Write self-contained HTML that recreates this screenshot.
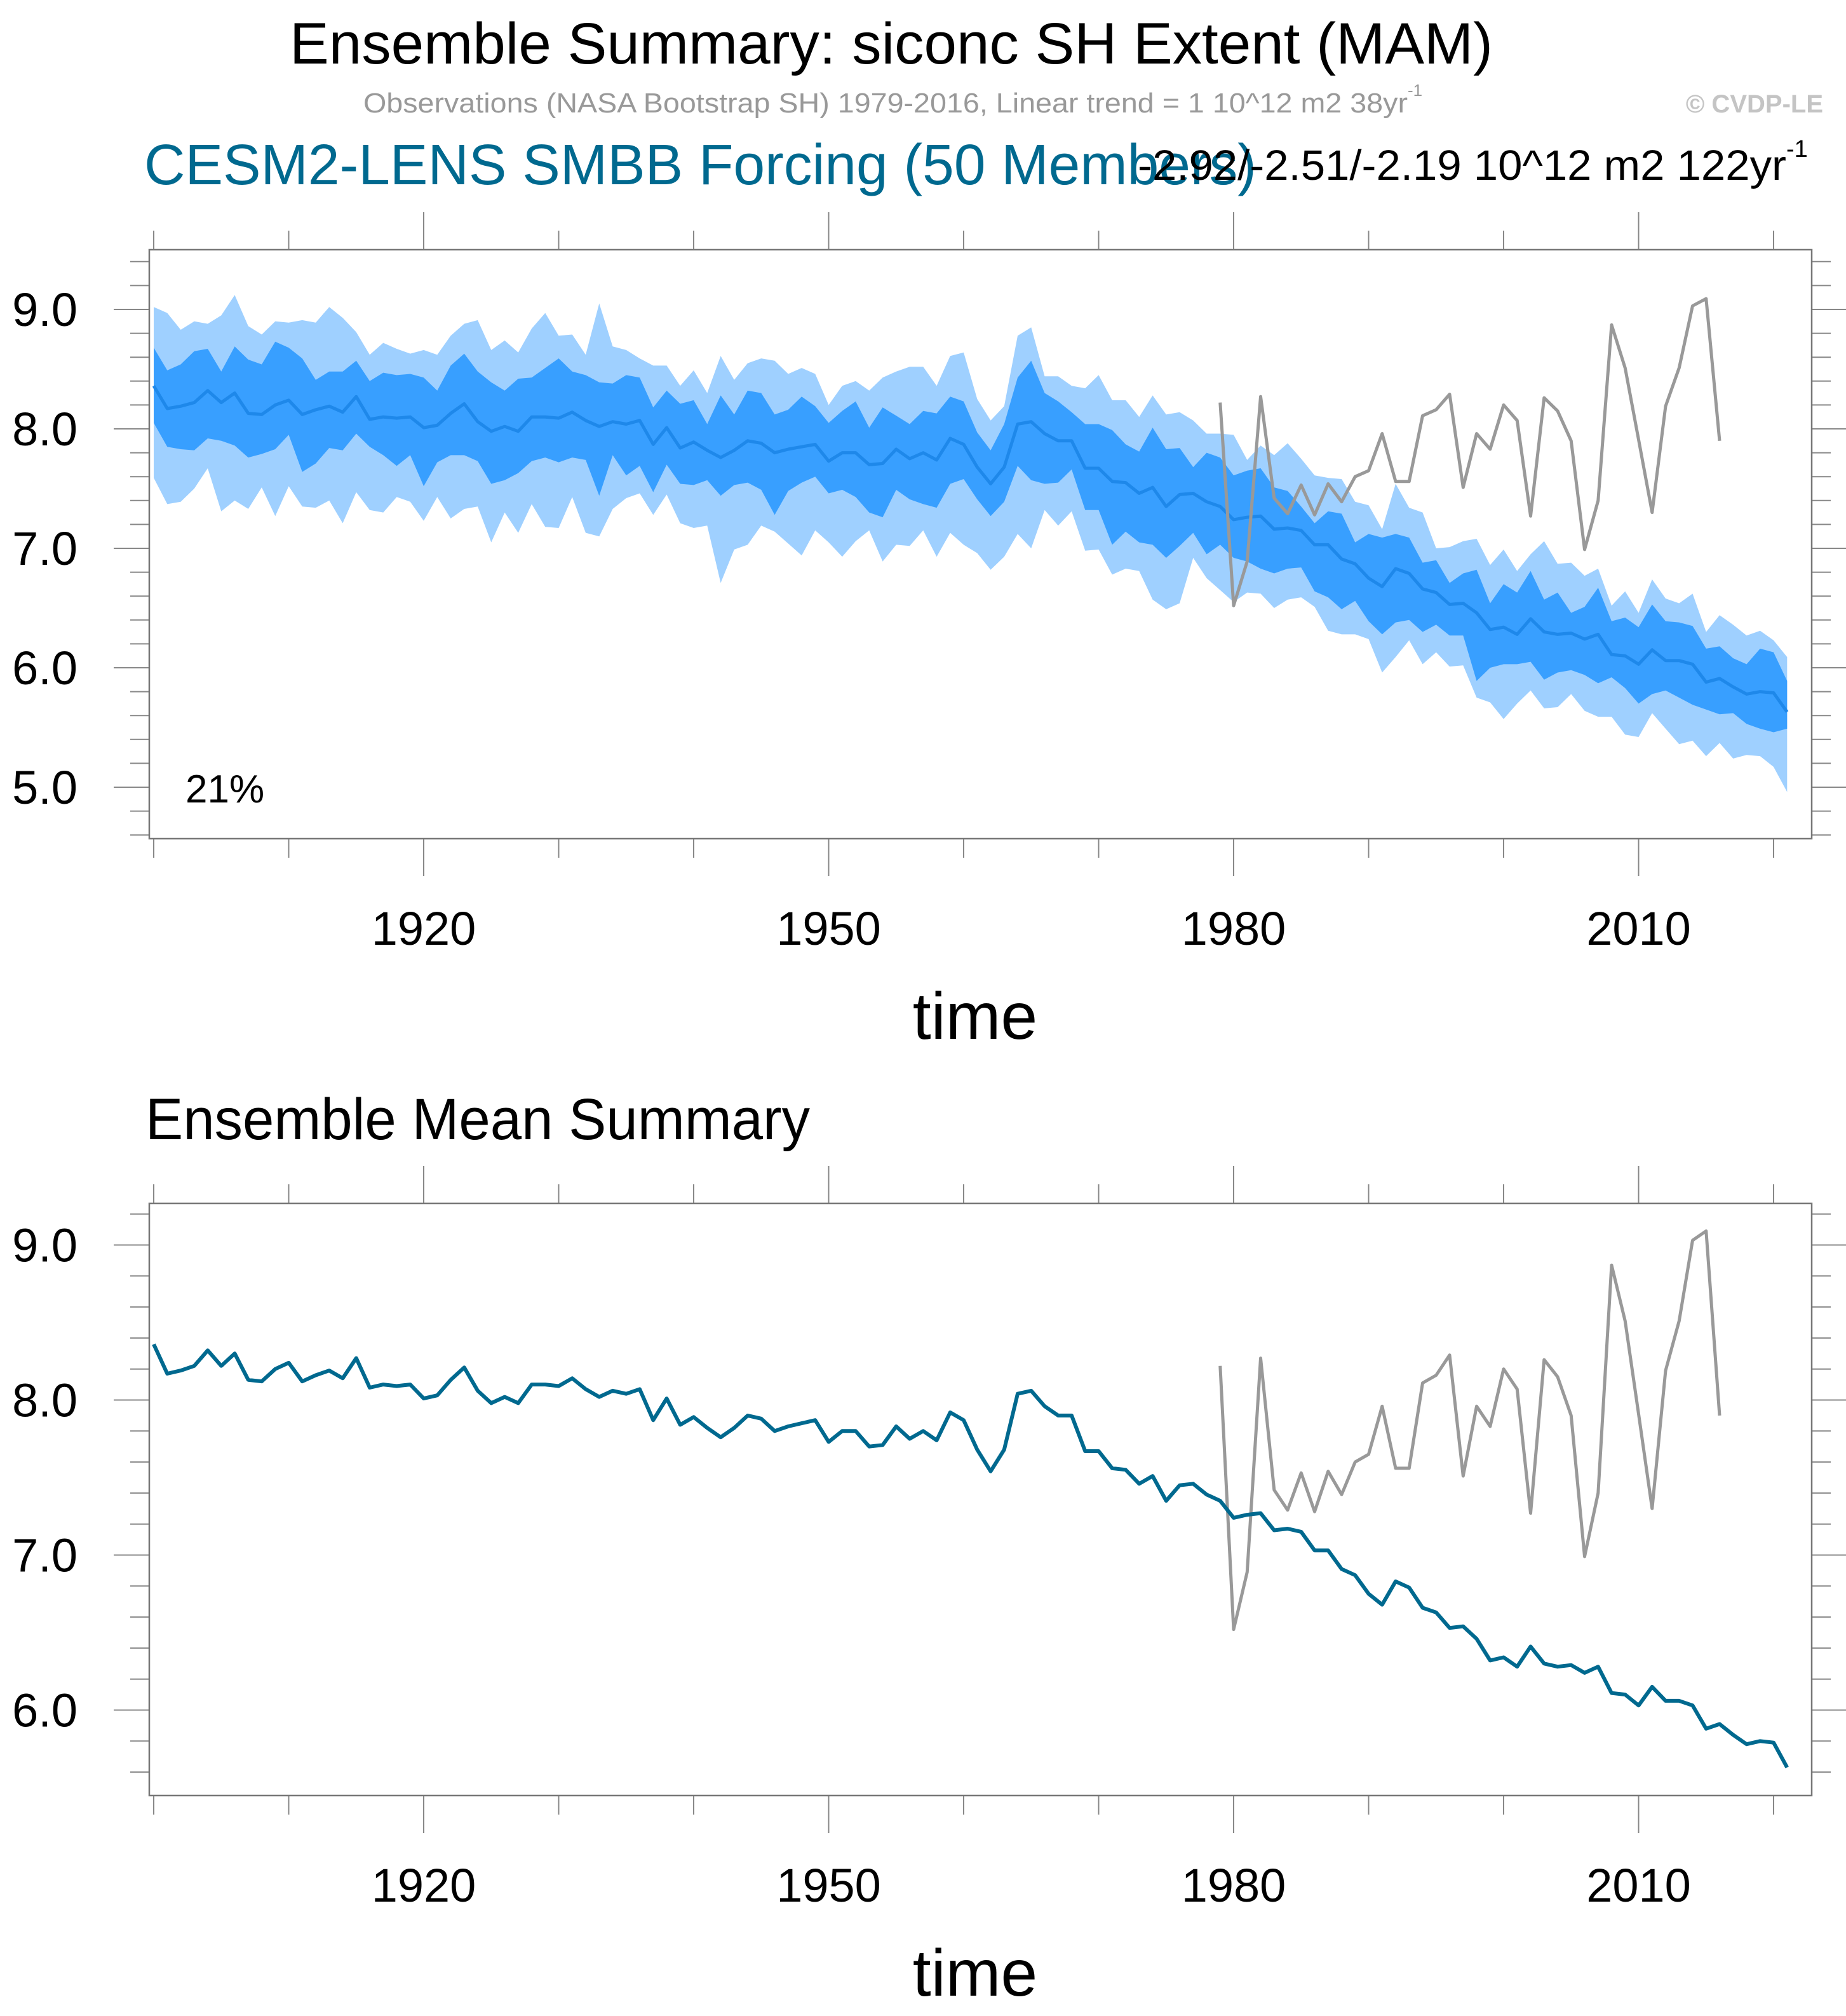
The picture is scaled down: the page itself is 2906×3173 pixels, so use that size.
<!DOCTYPE html>
<html><head><meta charset="utf-8">
<style>
html,body{margin:0;padding:0;background:#fff;}
svg{display:block;font-family:"Liberation Sans",sans-serif;}
</style></head>
<body>
<svg id="chart" xmlns="http://www.w3.org/2000/svg" width="2906" height="3173" viewBox="0 0 2906 3173">
<rect x="0" y="0" width="2906" height="3173" fill="#fff"/>
<text x="456" y="100" font-size="92" textLength="1894" lengthAdjust="spacingAndGlyphs" fill="#000">Ensemble Summary: siconc SH Extent (MAM)</text>
<text x="572" y="177" font-size="44" fill="#999"><tspan textLength="1644" lengthAdjust="spacingAndGlyphs">Observations (NASA Bootstrap SH) 1979-2016, Linear trend = 1 10^12 m2 38yr</tspan><tspan font-size="26" dy="-26">-1</tspan></text>
<text x="2870" y="177" font-size="40" font-weight="bold" fill="#c4c4c4" text-anchor="end">© CVDP-LE</text>
<text x="227" y="290" font-size="90" textLength="1751" lengthAdjust="spacingAndGlyphs" fill="#00698f">CESM2-LENS SMBB Forcing (50 Members)</text>
<text x="1791" y="283" font-size="67" fill="#000"><tspan textLength="1021" lengthAdjust="spacingAndGlyphs">-2.92/-2.51/-2.19 10^12 m2 122yr</tspan><tspan font-size="38" dy="-36">-1</tspan></text>
<text x="229" y="1793" font-size="92" textLength="1046" lengthAdjust="spacingAndGlyphs" fill="#000">Ensemble Mean Summary</text>
<g id="top"></g>
<g id="bot"></g>
</svg>
<script>
const years = [];
for (let y = 1900; y <= 2021; y++) years.push(y);

const ensMean = [8.36,8.17,8.19,8.22,8.32,8.22,8.30,8.13,8.12,8.20,8.24,8.12,8.16,8.19,8.14,8.27,8.08,8.10,8.09,8.10,
8.01,8.03,8.13,8.21,8.06,7.98,8.02,7.98,8.10,8.10,8.09,8.14,8.07,8.02,8.06,8.04,8.07,7.87,8.01,7.84,
7.89,7.82,7.76,7.82,7.90,7.88,7.80,7.83,7.85,7.87,7.73,7.80,7.80,7.70,7.71,7.83,7.75,7.80,7.74,7.92,
7.87,7.68,7.54,7.68,8.04,8.06,7.96,7.90,7.90,7.67,7.67,7.56,7.55,7.46,7.51,7.35,7.45,7.46,7.39,7.35,
7.24,7.26,7.27,7.16,7.17,7.15,7.03,7.03,6.91,6.87,6.75,6.68,6.83,6.79,6.66,6.63,6.53,6.54,6.46,6.32,
6.34,6.28,6.41,6.30,6.28,6.29,6.24,6.28,6.11,6.10,6.03,6.15,6.06,6.06,6.03,5.88,5.91,5.84,5.78,5.80,
5.79,5.63];

const bandMax = [9.02,8.97,8.83,8.90,8.88,8.95,9.12,8.86,8.79,8.90,8.89,8.91,8.89,9.02,8.93,8.81,8.62,8.72,8.67,8.63,
8.66,8.62,8.78,8.88,8.91,8.66,8.74,8.64,8.84,8.97,8.78,8.79,8.62,9.05,8.69,8.66,8.59,8.53,8.53,8.36,
8.49,8.30,8.61,8.41,8.55,8.59,8.57,8.46,8.51,8.46,8.20,8.36,8.40,8.32,8.43,8.48,8.52,8.52,8.36,8.61,
8.64,8.25,8.07,8.19,8.78,8.85,8.44,8.44,8.36,8.34,8.45,8.24,8.24,8.10,8.28,8.12,8.14,8.07,7.96,7.96,
7.95,7.74,7.86,7.78,7.88,7.75,7.61,7.59,7.58,7.39,7.36,7.16,7.54,7.34,7.30,7.00,7.01,7.06,7.08,6.86,
6.99,6.81,6.95,7.06,6.87,6.88,6.77,6.83,6.52,6.64,6.46,6.74,6.58,6.54,6.62,6.30,6.44,6.36,6.27,6.31,
6.23,6.09];

const bandUpper = [8.68,8.49,8.54,8.65,8.67,8.48,8.69,8.58,8.54,8.73,8.68,8.59,8.41,8.48,8.48,8.57,8.40,8.47,8.45,8.46,
8.43,8.32,8.53,8.63,8.48,8.39,8.32,8.42,8.43,8.51,8.59,8.48,8.45,8.39,8.38,8.45,8.43,8.18,8.32,8.21,
8.24,8.04,8.28,8.12,8.32,8.30,8.12,8.16,8.27,8.19,8.05,8.15,8.23,8.01,8.18,8.11,8.04,8.15,8.13,8.27,
8.23,7.97,7.82,8.04,8.43,8.57,8.30,8.23,8.14,8.04,8.04,7.99,7.87,7.81,8.01,7.83,7.84,7.68,7.80,7.76,
7.61,7.65,7.67,7.51,7.48,7.35,7.21,7.31,7.29,7.05,7.12,7.09,7.12,7.09,6.88,6.90,6.71,6.79,6.82,6.54,
6.70,6.63,6.81,6.57,6.63,6.46,6.51,6.67,6.39,6.42,6.34,6.53,6.39,6.38,6.35,6.16,6.18,6.08,6.03,6.16,
6.13,5.89];

const bandLower = [8.05,7.85,7.83,7.82,7.92,7.90,7.86,7.76,7.79,7.83,7.95,7.64,7.71,7.84,7.82,7.96,7.85,7.78,7.69,7.78,
7.52,7.72,7.78,7.78,7.73,7.54,7.57,7.63,7.73,7.76,7.72,7.76,7.74,7.44,7.78,7.61,7.69,7.47,7.70,7.54,
7.53,7.57,7.44,7.53,7.55,7.49,7.28,7.48,7.55,7.60,7.46,7.49,7.43,7.30,7.26,7.49,7.41,7.37,7.34,7.54,
7.58,7.41,7.27,7.39,7.69,7.57,7.54,7.55,7.66,7.32,7.32,7.03,7.14,7.05,7.03,6.92,7.02,7.13,6.95,7.03,
6.92,6.89,6.83,6.79,6.83,6.84,6.64,6.59,6.49,6.56,6.39,6.28,6.38,6.40,6.30,6.36,6.27,6.27,5.89,6.00,
6.03,6.03,6.05,5.90,5.96,5.98,5.94,5.87,5.92,5.83,5.70,5.78,5.81,5.75,5.69,5.65,5.61,5.62,5.53,5.49,
5.46,5.49];

const bandMin = [7.59,7.37,7.39,7.50,7.67,7.31,7.40,7.33,7.51,7.27,7.52,7.35,7.34,7.40,7.21,7.47,7.32,7.30,7.43,7.39,
7.23,7.43,7.25,7.33,7.35,7.05,7.30,7.13,7.37,7.18,7.17,7.43,7.13,7.10,7.33,7.42,7.46,7.28,7.45,7.21,
7.17,7.19,6.71,6.99,7.03,7.19,7.14,7.04,6.94,7.15,7.05,6.93,7.06,7.15,6.89,7.03,7.02,7.15,6.93,7.13,
7.03,6.96,6.82,6.93,7.12,7.00,7.32,7.19,7.31,6.98,6.99,6.78,6.83,6.81,6.57,6.49,6.54,6.92,6.75,6.65,
6.55,6.63,6.62,6.50,6.57,6.59,6.51,6.31,6.28,6.28,6.24,5.96,6.09,6.23,6.03,6.13,6.01,6.02,5.75,5.71,
5.57,5.70,5.81,5.66,5.67,5.78,5.64,5.59,5.59,5.44,5.42,5.62,5.49,5.36,5.39,5.26,5.37,5.24,5.27,5.26,
5.17,4.96];

const obsYears = [];
for (let y = 1979; y <= 2016; y++) obsYears.push(y);
const obsValues = [8.22,6.52,6.89,8.27,7.42,7.29,7.53,7.28,7.54,7.39,7.60,7.65,7.96,7.56,7.56,8.11,8.16,8.29,7.51,7.96,
7.83,8.20,8.07,7.27,8.26,8.15,7.90,6.99,7.40,8.87,8.51,7.91,7.30,8.19,8.51,9.03,9.09,7.90];

const yTicksTop = [5.0, 6.0, 7.0, 8.0, 9.0];
const yTicksBot = [6.0, 7.0, 8.0, 9.0];
const xTickYears = [1920, 1950, 1980, 2010];
const xTickLabels = ["1920", "1950", "1980", "2010"];
const yTickLabelsTop = ["5.0", "6.0", "7.0", "8.0", "9.0"];
const yTickLabelsBot = ["6.0", "7.0", "8.0", "9.0"];

const NS = "http://www.w3.org/2000/svg";
const FL = 235, FR = 2852;
function xs(yr) { return 242 + (yr - 1900) * 21.25; }
function mkScale(v0, y0, pxPerUnit) { return v => y0 + (v0 - v) * pxPerUnit; }

function el(tag, attrs, parent) {
  const e = document.createElementNS(NS, tag);
  for (const k in attrs) e.setAttribute(k, attrs[k]);
  parent.appendChild(e);
  return e;
}
function pts(xsArr, vals, ys) { return xsArr.map((y, i) => xs(y).toFixed(1) + "," + ys(vals[i]).toFixed(1)).join(" "); }

function axes(g, top, bottom, ys, vmin, vmax, yt, ytl, prefix) {
  for (let k = Math.ceil(vmin * 5); k <= Math.floor(vmax * 5); k++) {
    const v = k / 5, y = ys(v);
    const major = Math.abs(v - Math.round(v)) < 1e-6;
    const len = major ? 56 : 30;
    const t1 = el("line", {x1: FL - len, x2: FL, y1: y, y2: y, stroke: "#888", "stroke-width": 2}, g);
    
    
    const t2 = el("line", {x1: FR, x2: FR + len, y1: y, y2: y, stroke: "#888", "stroke-width": 2}, g);
    
    
  }
  for (let yr = 1900; yr <= 2020; yr += 10) {
    const x = xs(yr);
    const major = xTickYears.indexOf(yr) >= 0;
    const len = major ? 59 : 30;
    const a = el("line", {x1: x, x2: x, y1: top - len, y2: top, stroke: "#888", "stroke-width": 2}, g);
    
    
    const b = el("line", {x1: x, x2: x, y1: bottom, y2: bottom + len, stroke: "#888", "stroke-width": 2}, g);
    
    
  }
  const fr = el("rect", {x: FL, y: top, width: FR - FL, height: bottom - top, fill: "none", stroke: "#777", "stroke-width": 2.5}, g);
  
  
  yt.forEach((v, i) => {
    const t = el("text", {x: 122, y: ys(v) + 26, "font-size": 74, "text-anchor": "end", fill: "#000"}, g);
    
    
    t.textContent = ytl[i];
  });
  xTickYears.forEach((yr, i) => {
    const t = el("text", {x: xs(yr), y: bottom + 167, "font-size": 74, "text-anchor": "middle", fill: "#000"}, g);
    
    
    t.textContent = xTickLabels[i];
  });
  const xt = el("text", {x: 1535, y: bottom + 315, "font-size": 104, "text-anchor": "middle", fill: "#000"}, g);
  
  
  xt.textContent = "time";
}

// top panel
const gT = document.getElementById("top");
const ysT = mkScale(9.0, 487, 188);
const light = el("polygon", {points: pts(years, bandMax, ysT) + " " + pts(years.slice().reverse(), bandMin.slice().reverse(), ysT), fill: "#9fd0ff", stroke: "none"}, gT);


const dark = el("polygon", {points: pts(years, bandUpper, ysT) + " " + pts(years.slice().reverse(), bandLower.slice().reverse(), ysT), fill: "#389fff", stroke: "none"}, gT);


const mT = el("polyline", {points: pts(years, ensMean, ysT), fill: "none", stroke: "#1e88ea", "stroke-width": 5, "stroke-linejoin": "round"}, gT);


const oT = el("polyline", {points: pts(obsYears, obsValues, ysT), fill: "none", stroke: "#999", "stroke-width": 5, "stroke-linejoin": "round"}, gT);


axes(gT, 393, 1320, ysT, 4.6, 9.4, yTicksTop, yTickLabelsTop, "top");
const pct = el("text", {x: 292, y: 1263, "font-size": 62, fill: "#000"}, gT);


pct.textContent = "21%";

// bottom panel
const gB = document.getElementById("bot");
const ysB = mkScale(9.0, 1959.5, 244);
const oB = el("polyline", {points: pts(obsYears, obsValues, ysB), fill: "none", stroke: "#999", "stroke-width": 5, "stroke-linejoin": "round"}, gB);


const mB = el("polyline", {points: pts(years, ensMean, ysB), fill: "none", stroke: "#00698f", "stroke-width": 6, "stroke-linejoin": "round"}, gB);


axes(gB, 1894, 2826, ysB, 5.6, 9.2, yTicksBot, yTickLabelsBot, "bottom");
</script>
</body></html>
